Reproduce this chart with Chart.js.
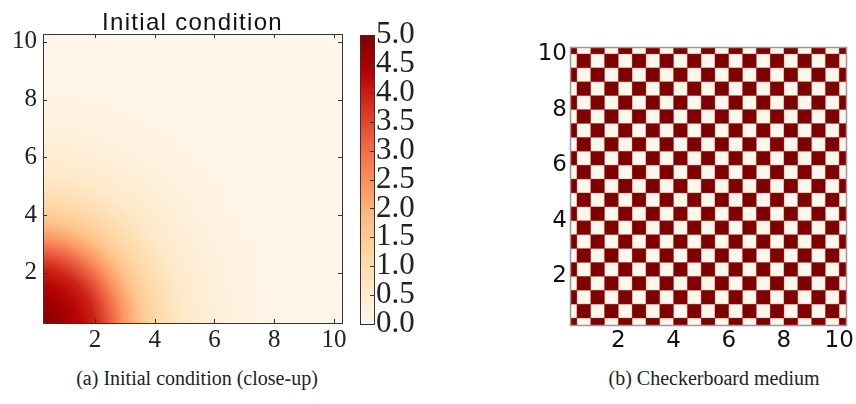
<!DOCTYPE html>
<html>
<head>
<meta charset="utf-8">
<script src="https://cdn.jsdelivr.net/npm/chart.js@4.4.1/dist/chart.umd.min.js"></script>
<style>
  body { margin: 0; width: 856px; height: 404px; background: #fff; position: relative; overflow: hidden; }
  canvas { position: absolute; }
  #heat { left: 0; top: 0; }
  #cbar { left: 356px; top: 0; }
  #board { left: 520px; top: 0; }
  .caption { position: absolute; top: 367px; font-family: "Liberation Serif", serif; font-size: 20px; color: #222; white-space: nowrap; transform: translateX(-50%); }
</style>
</head>
<body>
<canvas id="heat" width="352" height="360"></canvas>
<canvas id="cbar" width="100" height="360"></canvas>
<canvas id="board" width="336" height="360"></canvas>
<div class="caption" style="left:197px">(a) Initial condition (close-up)</div>
<div class="caption" style="left:714px">(b) Checkerboard medium</div>
<script>
// axes
const axisTicks = [2, 4, 6, 8, 10];
const heatRange = [0.26, 10.27];
const boardRange = [0.25, 10.25];

// initial condition, read along the bottom edge from the corner;
// the blob reaches a little further up than across
const fieldRadius = [0, 0.5, 1.0, 1.5, 2.0, 2.5, 3.0, 3.5, 4.0, 4.5, 5.0, 6.0, 7.0, 8.0, 10.0, 15.0];
const fieldValue = [5.0, 4.85, 4.6, 4.3, 3.95, 3.25, 2.35, 1.65, 1.15, 0.85, 0.6, 0.33, 0.17, 0.08, 0.03, 0.0];
const fieldAspect = 1.08;

// colorbar
const colorbarTicks = [0, 0.5, 1.0, 1.5, 2.0, 2.5, 3.0, 3.5, 4.0, 4.5, 5.0];
const colorRange = [0, 5];

// checkerboard, bottom row first, 1 = dark
const boardEdges = [0, 0.5, 1, 1.5, 2, 2.5, 3, 3.5, 4, 4.5, 5, 5.5, 6, 6.5, 7, 7.5, 8, 8.5, 9, 9.5, 10, 10.5];
const boardRows = [
  "101010101010101010101",
  "010101010101010101010",
  "101010101010101010101",
  "010101010101010101010",
  "101010101010101010101",
  "010101010101010101010",
  "101010101010101010101",
  "010101010101010101010",
  "101010101010101010101",
  "010101010101010101010",
  "101010101010101010101",
  "010101010101010101010",
  "101010101010101010101",
  "010101010101010101010",
  "101010101010101010101",
  "010101010101010101010",
  "101010101010101010101",
  "010101010101010101010",
  "101010101010101010101",
  "010101010101010101010",
  "101010101010101010101"
];

const orrd = ["#fff7ec", "#fee8c8", "#fdd49e", "#fdbb84", "#fc8d59", "#ef6548", "#d7301f", "#b30000", "#7f0000"];

function hexRgb(h) {
  return [1, 3, 5].map(i => parseInt(h.substr(i, 2), 16));
}

function cmap(v) {
  let t = (v - colorRange[0]) / (colorRange[1] - colorRange[0]);
  t = Math.max(0, Math.min(1, t)) * (orrd.length - 1);
  const i = Math.min(Math.floor(t), orrd.length - 2);
  const f = t - i;
  const a = hexRgb(orrd[i]), b = hexRgb(orrd[i + 1]);
  const c = a.map((x, k) => Math.round(x + (b[k] - x) * f));
  return `rgb(${c[0]},${c[1]},${c[2]})`;
}

function setTicks(list) {
  return scale => { scale.ticks = list.map(v => ({ value: v })); };
}

const heatField = {
  id: 'heatField',
  beforeDatasetsDraw(chart) {
    const { ctx, chartArea: a, scales: { x, y } } = chart;
    const ox = x.getPixelForValue(0), oy = y.getPixelForValue(0);
    const kx = x.getPixelForValue(1) - ox;
    const ky = oy - y.getPixelForValue(1);
    const rMax = fieldRadius[fieldRadius.length - 1];
    ctx.save();
    ctx.beginPath();
    ctx.rect(a.left, a.top, a.right - a.left, a.bottom - a.top);
    ctx.clip();
    ctx.translate(ox, oy);
    ctx.scale(kx, ky * fieldAspect);
    const g = ctx.createRadialGradient(0, 0, 0, 0, 0, rMax);
    fieldRadius.forEach((r, i) => g.addColorStop(r / rMax, cmap(fieldValue[i])));
    ctx.fillStyle = g;
    ctx.fillRect(-2, -rMax - 2, rMax + 4, rMax + 4);
    ctx.restore();
  }
};

const checkerCells = {
  id: 'checkerCells',
  beforeDatasetsDraw(chart) {
    const { ctx, chartArea: a, scales: { x, y } } = chart;
    ctx.save();
    ctx.beginPath();
    ctx.rect(a.left, a.top, a.right - a.left, a.bottom - a.top);
    ctx.clip();
    ctx.fillStyle = orrd[0];
    ctx.fillRect(a.left, a.top, a.right - a.left, a.bottom - a.top);
    ctx.fillStyle = orrd[orrd.length - 1];
    boardRows.forEach((row, r) => {
      const y0 = y.getPixelForValue(boardEdges[r]), y1 = y.getPixelForValue(boardEdges[r + 1]);
      for (let c = 0; c < row.length; c++) {
        if (row[c] !== '1') continue;
        const x0 = x.getPixelForValue(boardEdges[c]), x1 = x.getPixelForValue(boardEdges[c + 1]);
        ctx.fillRect(x0, y1, x1 - x0, y0 - y1);
      }
    });
    // soft seams between cells
    ctx.strokeStyle = 'rgba(150,40,40,0.35)';
    ctx.lineWidth = 1;
    ctx.beginPath();
    boardEdges.forEach(e => {
      const px = x.getPixelForValue(e), py = y.getPixelForValue(e);
      ctx.moveTo(px, a.top); ctx.lineTo(px, a.bottom);
      ctx.moveTo(a.left, py); ctx.lineTo(a.right, py);
    });
    ctx.stroke();
    ctx.restore();
  }
};

const frame = {
  id: 'frame',
  afterDatasetsDraw(chart, args, opts) {
    const { ctx, chartArea: a, scales } = chart;
    const L = opts.tickLength || 0;
    ctx.save();
    ctx.strokeStyle = opts.color;
    ctx.lineWidth = opts.width;
    ctx.beginPath();
    if (L && opts.xTicks) {
      scales.x.ticks.forEach(t => {
        const px = Math.round(scales.x.getPixelForValue(t.value)) + 0.5;
        ctx.moveTo(px, a.bottom); ctx.lineTo(px, a.bottom - L);
        ctx.moveTo(px, a.top); ctx.lineTo(px, a.top + L);
      });
    }
    if (L && opts.yTicks) {
      scales.y.ticks.forEach(t => {
        const py = Math.round(scales.y.getPixelForValue(t.value)) + 0.5;
        if (opts.leftTicks !== false) { ctx.moveTo(a.left, py); ctx.lineTo(a.left + L, py); }
        ctx.moveTo(a.right, py); ctx.lineTo(a.right - L, py);
      });
    }
    ctx.stroke();
    ctx.strokeRect(Math.round(a.left) + 0.5, Math.round(a.top) + 0.5, Math.round(a.right - a.left), Math.round(a.bottom - a.top));
    ctx.restore();
  }
};

const heatTitle = {
  id: 'heatTitle',
  afterDraw(chart) {
    const { ctx, chartArea: a } = chart;
    ctx.save();
    ctx.font = '24px "Liberation Sans"';
    ctx.letterSpacing = '1.3px';
    ctx.fillStyle = '#111';
    ctx.textAlign = 'center';
    ctx.textBaseline = 'alphabetic';
    ctx.fillText('Initial condition', (a.left + a.right) / 2, 30);
    ctx.restore();
  }
};

const serifTicks = { family: '"Liberation Serif"', size: 25 };
const common = {
  responsive: false,
  animation: false,
  events: [],
  plugins: { legend: { display: false }, tooltip: { enabled: false } }
};

new Chart(document.getElementById('heat'), {
  type: 'scatter',
  data: { datasets: [{ data: [] }] },
  options: {
    ...common,
    layout: { padding: { top: 34, right: 10, left: 0, bottom: 0 } },
    plugins: { ...common.plugins, frame: { color: '#333', width: 1, tickLength: 4, xTicks: true, yTicks: true } },
    scales: {
      x: {
        type: 'linear', min: heatRange[0], max: heatRange[1],
        afterBuildTicks: setTicks(axisTicks),
        afterFit: s => { s.height = 37; },
        grid: { display: false, drawTicks: false }, border: { display: false },
        ticks: { font: serifTicks, color: '#222', padding: 2, maxRotation: 0, autoSkip: false }
      },
      y: {
        type: 'linear', min: heatRange[0], max: heatRange[1],
        afterBuildTicks: setTicks(axisTicks),
        afterFit: s => { s.width = 43; },
        grid: { display: false, drawTicks: false }, border: { display: false },
        ticks: { font: serifTicks, color: '#222', padding: 6, autoSkip: false }
      }
    }
  },
  plugins: [heatField, frame, heatTitle]
});

new Chart(document.getElementById('cbar'), {
  type: 'bar',
  data: {
    labels: ['u'],
    datasets: [{
      data: [colorRange],
      barPercentage: 1,
      categoryPercentage: 1,
      borderWidth: 0,
      backgroundColor: c => {
        const { chart } = c;
        if (!chart.chartArea) return orrd[0];
        const y = chart.scales.y;
        const g = chart.ctx.createLinearGradient(0, y.getPixelForValue(colorRange[0]), 0, y.getPixelForValue(colorRange[1]));
        orrd.forEach((col, i) => g.addColorStop(i / (orrd.length - 1), col));
        return g;
      }
    }]
  },
  options: {
    ...common,
    layout: { padding: { top: 35, left: 4, right: 0, bottom: 36 } },
    plugins: { ...common.plugins, frame: { color: '#333', width: 1, tickLength: 4, yTicks: true, leftTicks: false } },
    scales: {
      x: { display: false },
      y: {
        position: 'right', min: colorRange[0], max: colorRange[1],
        afterBuildTicks: setTicks(colorbarTicks),
        afterFit: s => { s.width = 82; },
        grid: { display: false, drawTicks: false }, border: { display: false },
        ticks: { font: { family: '"Liberation Serif"', size: 31, lineHeight: 0.9 }, color: '#222', padding: 2, autoSkip: false, callback: v => v.toFixed(1) }
      }
    }
  },
  plugins: [frame]
});

new Chart(document.getElementById('board'), {
  type: 'scatter',
  data: { datasets: [{ data: [] }] },
  options: {
    ...common,
    layout: { padding: { top: 47, right: 9, left: 0, bottom: 0 } },
    plugins: { ...common.plugins, frame: { color: '#999', width: 1.5 } },
    scales: {
      x: {
        type: 'linear', min: boardRange[0], max: boardRange[1],
        afterBuildTicks: setTicks(axisTicks),
        afterFit: s => { s.height = 35; },
        grid: { display: false, drawTicks: false }, border: { display: false },
        ticks: { font: { family: '"DejaVu Sans"', size: 23 }, color: '#111', padding: 2, maxRotation: 0, autoSkip: false }
      },
      y: {
        type: 'linear', min: boardRange[0], max: boardRange[1],
        afterBuildTicks: setTicks(axisTicks),
        afterFit: s => { s.width = 50; },
        grid: { display: false, drawTicks: false }, border: { display: false },
        ticks: { font: { family: '"DejaVu Sans"', size: 23 }, color: '#111', padding: 3, autoSkip: false }
      }
    }
  },
  plugins: [checkerCells, frame]
});
</script>
</body>
</html>
